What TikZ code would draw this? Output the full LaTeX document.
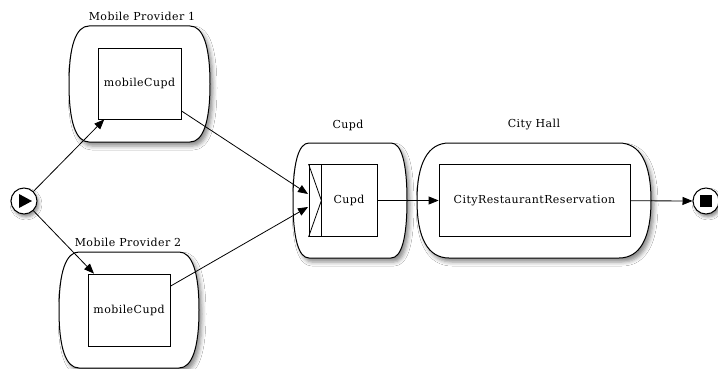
\documentclass[tikz,border=0pt]{standalone}
\usepackage{fontspec}
\newfontfamily\diafont{DejaVu Serif}[LetterSpace=4]
\usetikzlibrary{arrows.meta,shadows.blur}
\tikzset{
  cont/.style={draw=black, line width=1pt, fill=white,
    blur shadow={shadow xshift=3pt, shadow yshift=-4pt, shadow blur radius=4pt, shadow opacity=45}},
  task/.style={draw=black, line width=0.8pt, fill=white, rectangle, inner sep=0pt,
    font=\diafont\fontsize{11}{13}\selectfont},
  lbl/.style={font=\diafont\fontsize{11}{13}\selectfont, inner sep=0pt},
  event/.style={circle, draw=black, line width=1pt, fill=white, minimum size=26pt, inner sep=0pt,
    blur shadow={shadow xshift=2pt, shadow yshift=-3pt, shadow blur radius=3pt, shadow opacity=45}},
  flow/.style={draw=black, line width=0.8pt, -{Triangle[length=10pt,width=8pt]}}
}
% L R T B d
\newcommand\drawcontainer[5]{%
  \path[cont] ({#1+#5},#3) -- ({#2-#5},#3)
    .. controls ({#2-0.35*#5},#3) and (#2,{#3+0.17*(#4-#3)}) .. (#2,{(#3+#4)/2})
    .. controls (#2,{#4-0.17*(#4-#3)}) and ({#2-0.35*#5},#4) .. ({#2-#5},#4)
    -- ({#1+#5},#4)
    .. controls ({#1+0.35*#5},#4) and (#1,{#4-0.17*(#4-#3)}) .. (#1,{(#3+#4)/2})
    .. controls (#1,{#3+0.17*(#4-#3)}) and ({#1+0.35*#5},#3) .. cycle;}
\begin{document}
\begin{tikzpicture}[x=1pt,y=-1pt]
\useasboundingbox[fill=white] (0,0) rectangle (718,369);
% containers
\drawcontainer{69}{210}{26}{142}{20}
\drawcontainer{59}{199}{252}{368}{20}
\drawcontainer{293}{407}{143}{258}{16}
\drawcontainer{417}{651}{143}{258}{32}
% container labels
\node[lbl] (l1) at (142,16) {Mobile Provider 1};
\node[lbl] (l2) at (128,242) {Mobile Provider 2};
\node[lbl] (l3) at (348,125) {Cupd};
\node[lbl] (l4) at (534,125) {City Hall};
% tasks
\node[task, minimum width=83pt, minimum height=71pt] (mp1) at (139.5,83.5) {mobileCupd};
\node[task, minimum width=82pt, minimum height=72pt] (mp2) at (129,310) {mobileCupd};
\node[task, minimum width=12pt, minimum height=72pt] (gate) at (315,200.5) {};
\node[task, minimum width=56pt, minimum height=72pt] (cupd) at (349,200.5) {Cupd};
\node[task, minimum width=191pt, minimum height=72pt] (ch) at (534.5,200.5) {CityRestaurantReservation};
\draw[line width=0.8pt] (gate.north west) -- (gate.east) -- (gate.south west);
% events
\node[event] (start) at (24,201) {};
\fill (19,194) -- (19,208) -- (32,201) -- cycle;
\node[event] (end) at (706,201) {};
\node[fill=black, minimum size=12pt, inner sep=0pt] (endsq) at (706,201) {};
% flows
\coordinate (in1) at (308,194);
\coordinate (in2) at (308,207);
\draw[flow] (start) -- (mp1);
\draw[flow] (start) -- (mp2);
\draw[flow] (mp1) -- (in1);
\draw[flow] (mp2) -- (in2);
\draw[flow] (cupd) -- (ch);
\draw[flow] (ch) -- (end);
\end{tikzpicture}
\end{document}
